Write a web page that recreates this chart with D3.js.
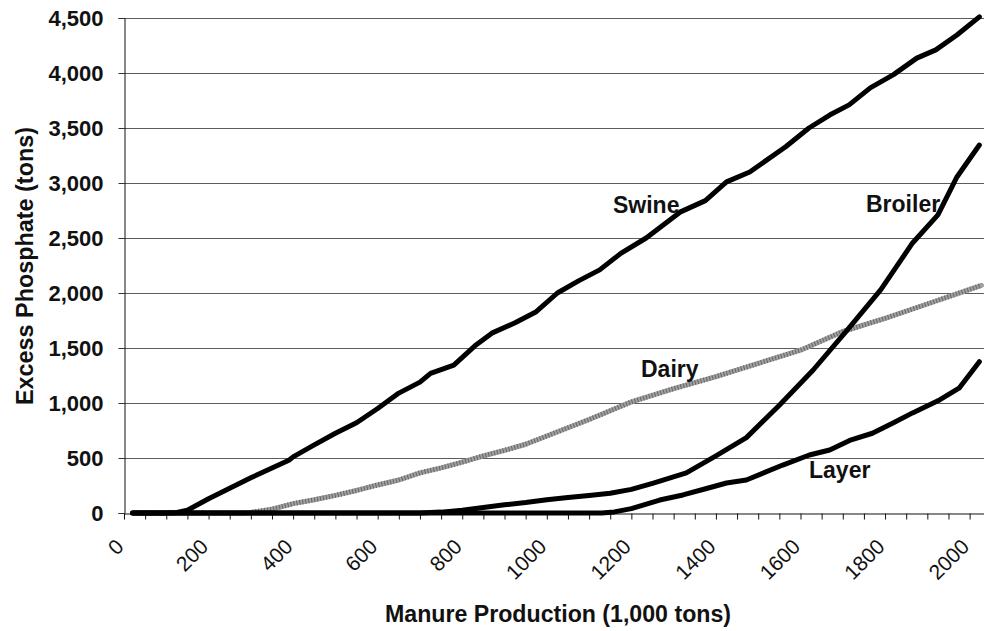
<!DOCTYPE html>
<html>
<head>
<meta charset="utf-8">
<script src="https://cdn.jsdelivr.net/npm/d3@7"></script>
<style>
  html, body { margin: 0; padding: 0; background: #fff; }
  svg { display: block; }
  text { font-family: "Liberation Sans", Arial, sans-serif; font-weight: bold; fill: #111; }
</style>
</head>
<body>
<svg id="chart" width="984" height="631"></svg>
<script>
// ---- data (manure production in 1,000 tons, excess phosphate in tons) ----
const swine = [[25,0],[100,0],[125,5],[150,25],[200,130],[250,225],[300,320],[350,410],[390,480],[400,510],[450,620],[500,725],[550,820],[600,950],[650,1090],[700,1190],[725,1270],[780,1345],[830,1520],[870,1635],[925,1730],[975,1830],[1025,2000],[1075,2110],[1125,2210],[1175,2360],[1235,2500],[1315,2735],[1375,2840],[1425,3010],[1480,3100],[1565,3330],[1620,3500],[1670,3620],[1715,3710],[1765,3865],[1820,3985],[1875,4135],[1920,4210],[1970,4345],[2023,4510]];
const dairy = [[20,0],[280,0],[300,5],[350,35],[400,85],[450,120],[500,160],[550,205],[600,255],[650,300],[700,365],[750,410],[800,462],[850,520],[900,570],[950,625],[1000,700],[1050,775],[1100,850],[1150,930],[1200,1010],[1300,1130],[1400,1240],[1500,1360],[1600,1480],[1700,1650],[1800,1770],[1900,1900],[2028,2070]];
const broiler = [[20,0],[700,0],[750,8],[800,25],[850,50],[900,75],[950,95],[1000,120],[1050,140],[1100,160],[1150,180],[1200,215],[1250,270],[1330,365],[1400,520],[1472,685],[1550,980],[1630,1300],[1710,1660],[1790,2030],[1865,2455],[1925,2710],[1970,3055],[2023,3345]];
const layer = [[20,0],[1130,0],[1160,10],[1200,40],[1267,118],[1322,164],[1380,225],[1425,273],[1472,300],[1558,436],[1621,527],[1669,573],[1720,665],[1770,725],[1820,820],[1865,910],[1930,1030],[1975,1135],[2023,1375]];

const yTicks = [0,500,1000,1500,2000,2500,3000,3500,4000,4500];
const xLabelTicks = [0,200,400,600,800,1000,1200,1400,1600,1800,2000];
const xMinorTicks = d3.range(0, 2001, 50);
const seriesLabels = [
  {name: "Swine", x: 613, y: 213},
  {name: "Broiler", x: 866, y: 212},
  {name: "Dairy", x: 641, y: 377},
  {name: "Layer", x: 809, y: 478}
];

(function () {
  const svg = d3.select("#chart");
  const mLeft = 124, mRight = 984, mTop = 18, mBottom = 513;
  const x = d3.scaleLinear().domain([0, 2034]).range([mLeft, mRight]);
  const y = d3.scaleLinear().domain([0, 4500]).range([mBottom, mTop]);
  const fmt = d3.format(",");

  // gridlines
  svg.append("g").selectAll("line").data(yTicks.filter(d => d > 0)).join("line")
    .attr("x1", mLeft).attr("x2", mRight)
    .attr("y1", d => Math.round(y(d)) + 0.5).attr("y2", d => Math.round(y(d)) + 0.5)
    .attr("stroke", "#5c5c5c").attr("stroke-width", 1);

  // y axis
  const yAxis = svg.append("g").attr("transform", `translate(${mLeft + 0.5},0)`)
    .call(d3.axisLeft(y).tickValues(yTicks).tickFormat(fmt).tickSize(6).tickPadding(15));
  yAxis.select(".domain").attr("stroke", "#111");
  yAxis.selectAll(".tick line").attr("stroke", "#333");
  yAxis.selectAll(".tick text").style("font-size", "22px").attr("fill", "#111")
    .style("font-family", "'Liberation Sans', Arial, sans-serif").style("font-weight", "bold");

  // x axis
  const xAxis = svg.append("g").attr("transform", `translate(0,${mBottom + 0.5})`)
    .call(d3.axisBottom(x).tickValues(xMinorTicks).tickFormat("").tickSize(6).tickSizeOuter(0));
  xAxis.select(".domain").attr("stroke", "#111");
  xAxis.selectAll(".tick line").attr("stroke", "#111");

  svg.append("g").selectAll("text").data(xLabelTicks).join("text")
    .attr("transform", d => `translate(${x(d) + 1},${mBottom + 35}) rotate(-45)`)
    .attr("text-anchor", "end")
    .style("font-size", "21px")
    .style("font-weight", "normal")
    .text(d => d);

  // lines
  const line = d3.line().x(d => x(d[0])).y(d => y(d[1]));
  const plot = svg.append("g");
  plot.append("path").datum(dairy).attr("d", line)
    .attr("fill", "none").attr("stroke", "#a0a0a0").attr("stroke-width", 5)
    .attr("stroke-linejoin", "round").attr("stroke-linecap", "round");
  plot.append("path").datum(dairy).attr("d", line)
    .attr("fill", "none").attr("stroke", "#666").attr("stroke-width", 5)
    .attr("stroke-dasharray", "1 2").attr("stroke-linejoin", "round");
  [layer, broiler, swine].forEach(s => {
    plot.append("path").datum(s).attr("d", line)
      .attr("fill", "none").attr("stroke", "#000").attr("stroke-width", 5)
      .attr("stroke-linejoin", "round").attr("stroke-linecap", "round");
  });

  // series labels
  svg.append("g").selectAll("text").data(seriesLabels).join("text")
    .attr("x", d => d.x).attr("y", d => d.y)
    .style("font-size", "23px")
    .text(d => d.name);

  // axis titles
  svg.append("text")
    .attr("x", 558).attr("y", 622).attr("text-anchor", "middle")
    .style("font-size", "23px")
    .attr("textLength", 346).attr("lengthAdjust", "spacingAndGlyphs")
    .text("Manure Production (1,000 tons)");
  svg.append("text")
    .attr("transform", `translate(33,266) rotate(-90)`)
    .attr("text-anchor", "middle")
    .style("font-size", "23px")
    .attr("textLength", 278).attr("lengthAdjust", "spacingAndGlyphs")
    .text("Excess Phosphate (tons)");
})();
</script>
</body>
</html>
